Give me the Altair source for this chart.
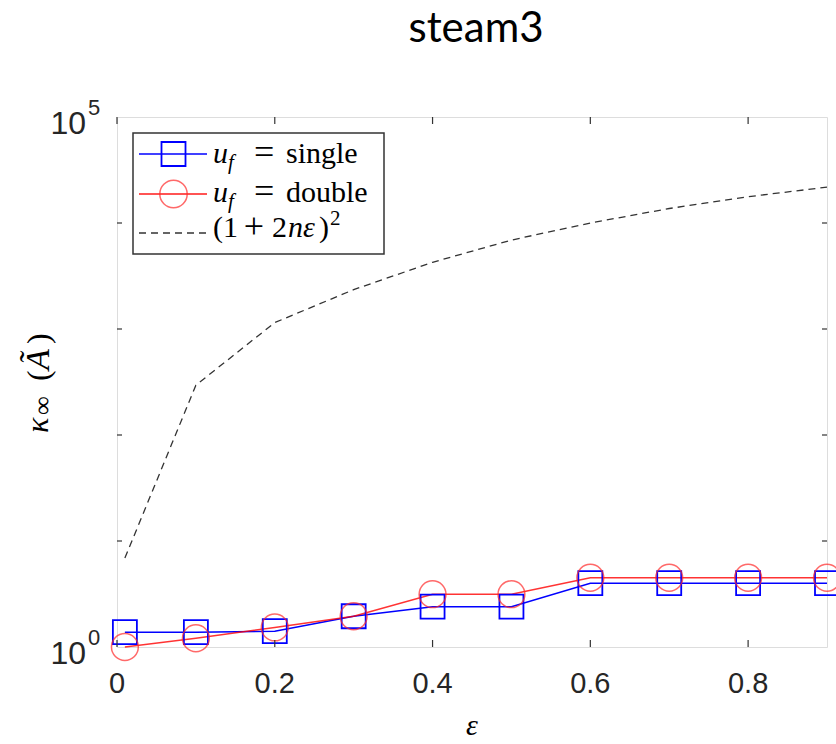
import altair as alt
import pandas as pd

# ---------------- data ----------------
eps = [0.01, 0.1, 0.2, 0.3, 0.4, 0.5, 0.6, 0.7, 0.8, 0.9]
kappa_single = [1.38, 1.38, 1.41, 1.95, 2.4, 2.4, 4.0, 4.0, 4.0, 4.0]
kappa_double = [1.0, 1.21, 1.53, 1.95, 3.15, 3.15, 4.5, 4.5, 4.5, 4.5]
bound = [6.9, 295, 1150, 2350, 4260, 6900, 10000, 13700, 17700, 21800]
x_ticks = [0, 0.2, 0.4, 0.6, 0.8]
y_minor_ticks = [10, 100, 1000, 10000]
y_label_values = [1, 100000]
y_label_base = ["10", "10"]
y_label_exp = ["0", "5"]
title_text = "steam3"

# ---------------- layout ----------------
W, H = 710, 530
AX = "#262626"
xs = alt.Scale(domain=[0, 0.9], nice=False, zero=False)
ys = alt.Scale(type="log", domain=[1, 100000], nice=False)

df = pd.DataFrame({"eps": eps, "single": kappa_single,
                   "double": kappa_double, "bound": bound})
base = alt.Chart(df)
xn = alt.X("eps:Q", scale=xs, axis=None)

bound_line = base.mark_line(color="#333333", strokeWidth=1.3, strokeDash=[7, 5]).encode(
    x=xn, y=alt.Y("bound:Q", scale=ys, axis=None))

single_line = base.mark_line(color="#0000ff", strokeWidth=1.5).encode(
    x=xn, y=alt.Y("single:Q", scale=ys, axis=None))
single_pts = base.mark_point(shape="square", filled=False, size=576,
                             color="#0000ff", strokeWidth=1.8, opacity=1).encode(
    x=xn, y=alt.Y("single:Q", scale=ys, axis=None))
double_line = base.mark_line(color="#ff0000", strokeWidth=1.6, opacity=0.8).encode(
    x=xn, y=alt.Y("double:Q", scale=ys, axis=None))
double_pts = base.mark_point(shape="circle", filled=False, size=720,
                             color="#ff2a2a", strokeWidth=1.5, opacity=0.7).encode(
    x=xn, y=alt.Y("double:Q", scale=ys, axis=None))

# inward ticks (MATLAB style, mirrored on all sides)
xt = alt.Chart(pd.DataFrame({"xt": x_ticks}))
yt = alt.Chart(pd.DataFrame({"yt": y_minor_ticks}))
xtn = alt.X("xt:Q", scale=xs, axis=None)
tick_style = dict(color="#333333", strokeWidth=1.2)
ticks = [
    xt.mark_rule(**tick_style).encode(x=xtn, y=alt.value(H), y2=alt.value(H - 7)),
    xt.mark_rule(**tick_style).encode(x=xtn, y=alt.value(0), y2=alt.value(7)),
    yt.mark_rule(**tick_style).encode(y=alt.Y("yt:Q", scale=ys, axis=None),
                                      x=alt.value(0), x2=alt.value(5)),
    yt.mark_rule(**tick_style).encode(y=alt.Y("yt:Q", scale=ys, axis=None),
                                      x=alt.value(W), x2=alt.value(W - 5)),
]

# x tick labels through the x scale
xlab = xt.mark_text(align="center", baseline="alphabetic", font="Liberation Sans",
                    fontSize=29, color=AX).encode(
    x=xtn, y=alt.value(H + 46), text=alt.Text("xt:Q", format="~g"))

# y tick labels 10^0, 10^5 placed through the y scale
yl = alt.Chart(pd.DataFrame({"yv": y_label_values, "b": y_label_base, "e": y_label_exp}))
ylab_base = yl.mark_text(align="right", baseline="alphabetic", dy=17,
                         font="Liberation Sans", fontSize=32, color=AX).encode(
    y=alt.Y("yv:Q", scale=ys, axis=None), x=alt.value(-31), text="b:N")
ylab_exp = yl.mark_text(align="left", baseline="alphabetic", dy=-2,
                        font="Liberation Sans", fontSize=22, color=AX).encode(
    y=alt.Y("yv:Q", scale=ys, axis=None), x=alt.value(-29), text="e:N")


def txt(s, x, y, size=30, italic=False, font="Liberation Serif", angle=0,
        align="left", color="black"):
    return alt.Chart(alt.Data(values=[{}])).mark_text(
        text=s, font=font, fontSize=size,
        fontStyle="italic" if italic else "normal",
        align=align, baseline="alphabetic", angle=angle, color=color
    ).encode(x=alt.value(x), y=alt.value(y))


# legend box
one = alt.Chart(alt.Data(values=[{}]))
legend_box = one.mark_rect(fill="white", stroke="#333333", strokeWidth=1.5).encode(
    x=alt.value(16), x2=alt.value(267), y=alt.value(16), y2=alt.value(137))
leg_items = [
    one.mark_rule(color="#0000ff", strokeWidth=1.5).encode(
        x=alt.value(22), x2=alt.value(90), y=alt.value(37)),
    one.mark_point(shape="square", filled=False, size=576, color="#0000ff",
                   strokeWidth=1.8, opacity=1).encode(x=alt.value(56.5), y=alt.value(37)),
    one.mark_rule(color="#ff0000", strokeWidth=1.6, opacity=0.9).encode(
        x=alt.value(22), x2=alt.value(90), y=alt.value(77)),
    one.mark_point(shape="circle", filled=False, size=750, color="#ff2a2a",
                   strokeWidth=1.5, opacity=0.7).encode(x=alt.value(56.5), y=alt.value(77)),
    one.mark_rule(color="#333333", strokeWidth=1.3, strokeDash=[7, 5]).encode(
        x=alt.value(22), x2=alt.value(90), y=alt.value(116)),
]
leg_text = []
for yb, word in [(46, "single"), (85, "double")]:
    leg_text += [txt("u", 96, yb, italic=True),
                 txt("f", 111, yb + 6, size=21, italic=True),
                 txt("=", 137, yb + 1, size=36),
                 txt(word, 169, yb)]
leg_text += [txt("(1", 96, 120),
             txt("+", 137, 121, size=36, align="center"), txt("2", 155, 120),
             txt("n", 171, 120, italic=True), txt("ε", 186, 120, italic=True),
             txt(")", 202, 120), txt("2", 213, 108, size=21)]

# axis titles and chart title
labels = [
    txt("κ", -69, 316, size=32, italic=True, angle=270),
    txt("∞", -66, 298, size=26, angle=270),
    txt("(", -68, 264, size=32, angle=270),
    txt("Ã", -68, 253, size=34, italic=True, angle=270),
    txt(")", -68, 227, size=32, angle=270),
    txt("ε", 355, 618, italic=True, align="center"),
    txt(title_text, 359, -75, size=42, font="Lato", align="center"),
]

chart = alt.layer(
    bound_line, single_line, double_line, single_pts, double_pts,
    *ticks, xlab, ylab_base, ylab_exp, legend_box, *leg_items, *leg_text, *labels
).properties(
    width=W, height=H,
    autosize=alt.AutoSizeParams(type="none"),
    padding={"left": 117, "top": 117, "right": 9, "bottom": 97},
).configure_view(stroke="#333333", strokeWidth=1.5).configure(background="white")

chart.save("out.html", embed_options={"renderer": "svg", "actions": False})
